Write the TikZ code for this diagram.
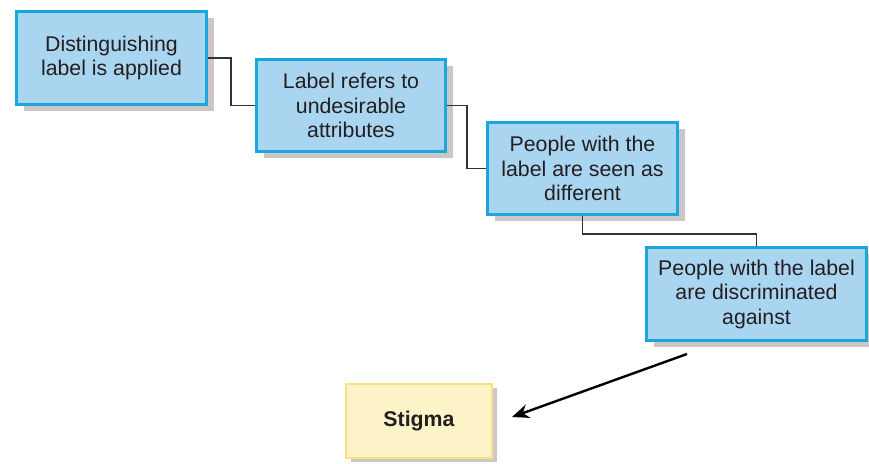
\documentclass[tikz,border=0pt]{standalone}
\usepackage{fontspec}
\setmainfont{Liberation Sans}
\usetikzlibrary{shadows,arrows.meta}
\definecolor{boxblue}{HTML}{A9D5F0}
\definecolor{edgeblue}{HTML}{1BA6DE}
\definecolor{boxyellow}{HTML}{FCF3C8}
\definecolor{edgeyellow}{HTML}{FDE07A}
\definecolor{shadowgrey}{HTML}{CCC6C9}
\definecolor{textdark}{HTML}{231F20}
\tikzset{
  stepbox/.style={draw=edgeblue, fill=boxblue, line width=3pt, align=center,
    text=textdark, font=\fontsize{21.3}{24.5}\selectfont, inner sep=0pt,
    drop shadow={shadow xshift=7pt, shadow yshift=-6pt, fill=shadowgrey, opacity=1}},
  resultbox/.style={draw=edgeyellow, fill=boxyellow, line width=2pt, align=center,
    text=textdark, font=\fontsize{21.3}{24.5}\selectfont\bfseries, inner sep=0pt,
    drop shadow={shadow xshift=5pt, shadow yshift=-4pt, fill=shadowgrey, opacity=1}},
  link/.style={draw=black!80, line width=1.2pt}
}
\begin{document}
\begin{tikzpicture}[x=1pt,y=-1pt]
  \useasboundingbox (0,0) rectangle (869,463);
  % the four steps
  \node[stepbox, minimum width=190pt, minimum height=93pt] (applied) at (111.5,58)
    {Distinguishing\\label is applied};
  \node[stepbox, minimum width=189pt, minimum height=92pt] (refers) at (351,105.5)
    {Label refers to\\undesirable\\attributes};
  \node[stepbox, minimum width=190pt, minimum height=92pt] (different) at (582.5,168.5)
    {People with the\\label are seen as\\different};
  \node[stepbox, minimum width=220pt, minimum height=93pt] (discrim) at (756.5,294)
    {People with the label\\are discriminated\\against};
  % result
  \node[resultbox, minimum width=146pt, minimum height=74pt] (stigma) at (419,421) {Stigma};
  % connectors
  \draw[link] (applied.east) -- ++(23,0) |- (refers.west);
  \draw[link] (refers.east) -- ++(20,0) |- (different.west);
  \draw[link] (different.south) -- ++(0,18) -| (discrim.north);
  \coordinate (tail) at (687,354);
  \coordinate (head) at (512,417);
  \draw[line width=2.4pt, -{Stealth[length=17pt, width=14pt]}] (tail) -- (head);
\end{tikzpicture}
\end{document}
